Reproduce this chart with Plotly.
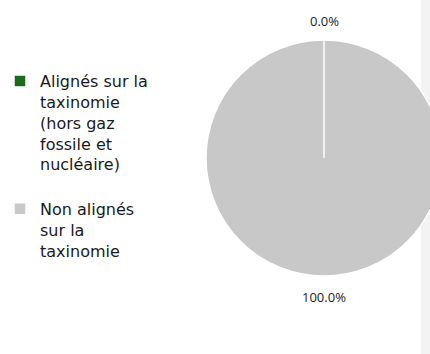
import plotly.graph_objects as go

# Répartition des investissements selon la taxinomie
categories = [
    "Alignés sur la<br>taxinomie<br>(hors gaz<br>fossile et<br>nucléaire)<br>",
    "Non alignés<br>sur la<br>taxinomie",
]
values = [0.0, 100.0]
colors = ["#1a6b1a", "#c8c8c8"]

W, H = 460, 354

# pie placement (paper fractions)
dom_x = [206 / W, 442 / W]
dom_y = [(H - 276) / H, (H - 40) / H]
cx = (dom_x[0] + dom_x[1]) / 2

total = sum(values)
shares = [v / total for v in values]

fig = go.Figure(
    go.Pie(
        labels=categories,
        values=values,
        sort=False,
        direction="counterclockwise",
        marker=dict(colors=colors, line=dict(color="white", width=1.5)),
        textinfo="none",
        hoverinfo="label+percent",
        domain=dict(x=dom_x, y=dom_y),
    )
)

# percentage labels: first slice above the pie, second below it
label_font = dict(family="Open Sans", size=13, color="#222222")
annotations = [
    dict(x=cx, y=(H - 21) / H, xref="paper", yref="paper",
         text=f"{shares[0]:.1%}", showarrow=False, font=label_font,
         xanchor="center", yanchor="middle"),
    dict(x=cx, y=(H - 297) / H, xref="paper", yref="paper",
         text=f"{shares[1]:.1%}", showarrow=False, font=label_font,
         xanchor="center", yanchor="middle"),
]

fig.update_layout(
    width=W,
    height=H,
    margin=dict(l=0, r=0, t=0, b=0),
    paper_bgcolor="white",
    plot_bgcolor="white",
    showlegend=True,
    legend=dict(
        x=0.0,
        y=(H - 64) / H,
        xanchor="left",
        yanchor="top",
        valign="top",
        font=dict(family="DejaVu Sans", size=16, color="#1a1a1a"),
        bgcolor="rgba(0,0,0,0)",
    ),
    annotations=annotations,
    shapes=[
        # light panel strip at the right edge
        dict(type="rect", xref="paper", yref="paper",
             x0=421 / W, x1=1, y0=0, y1=1,
             fillcolor="#f3f3f3", line=dict(width=0), layer="below"),
        # slice boundary at the start angle (12 o'clock)
        dict(type="line", xref="paper", yref="paper",
             x0=cx, x1=cx, y0=(dom_y[0] + dom_y[1]) / 2, y1=dom_y[1],
             line=dict(color="white", width=1.5), layer="above"),
    ],
)

fig.write_html(
    "out.html",
    post_script="document.documentElement.style.overflow='hidden';document.body.style.overflow='hidden';document.body.style.margin='0';",
)
